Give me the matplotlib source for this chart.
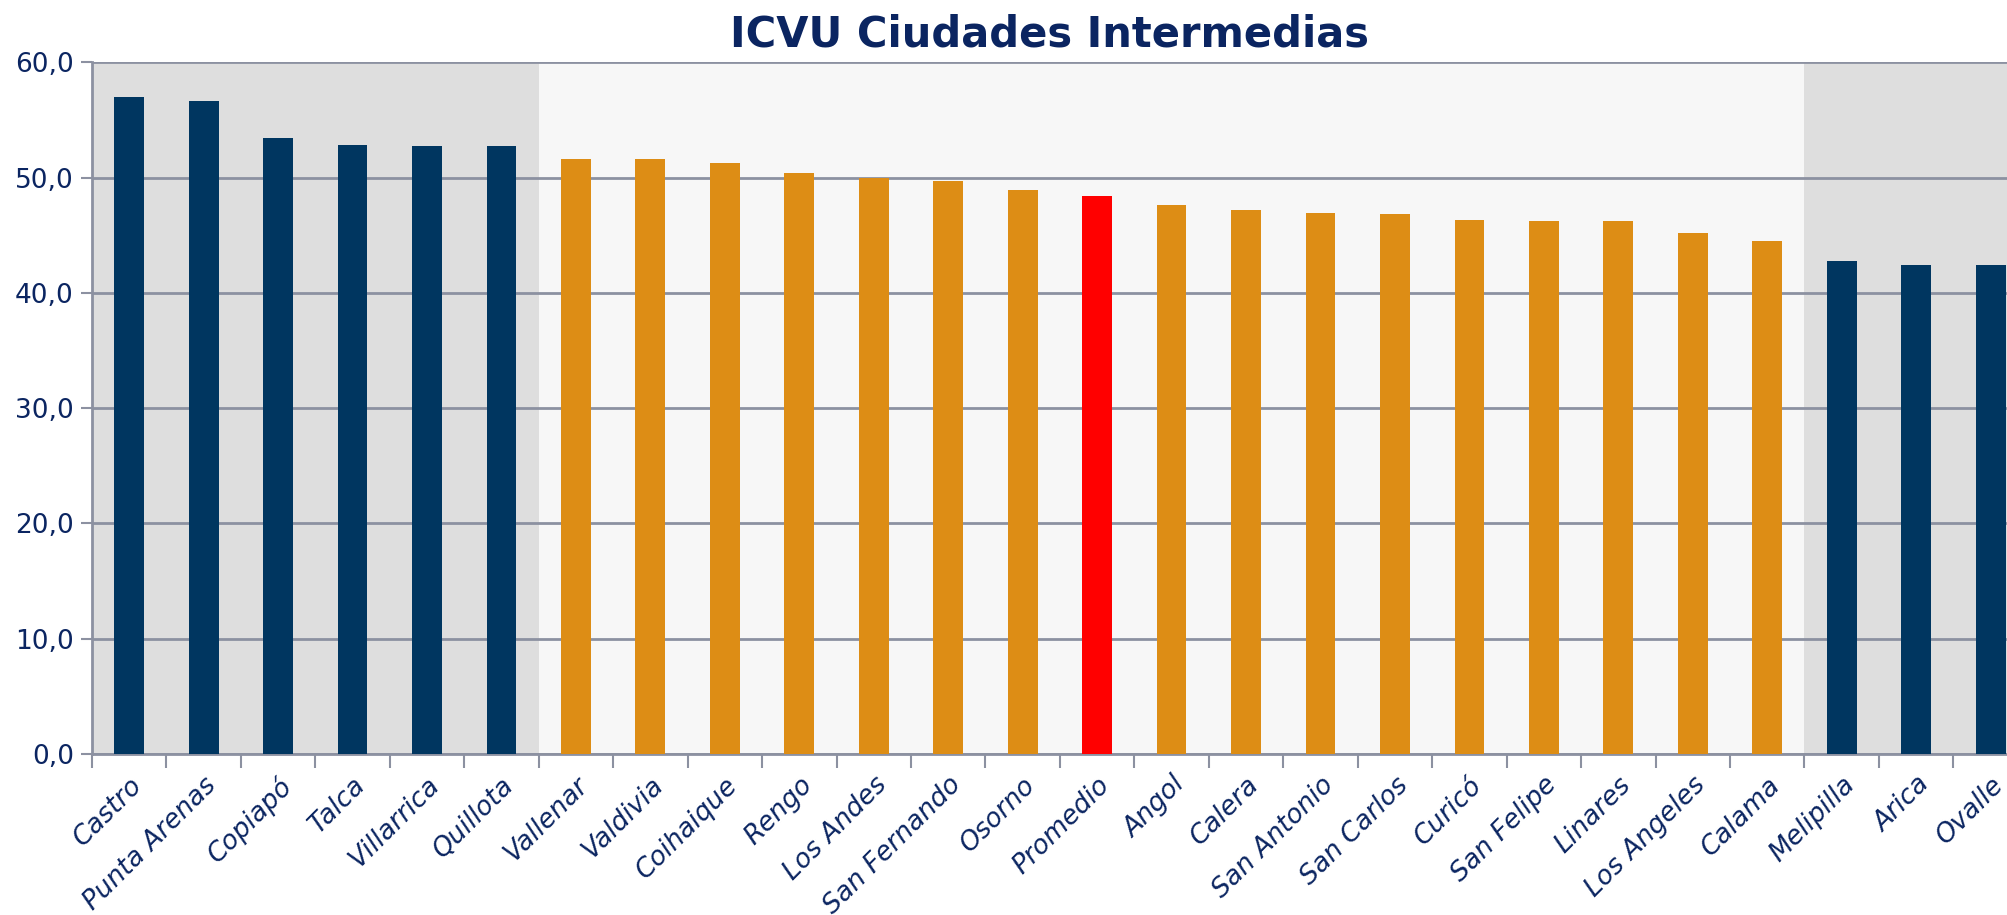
import matplotlib
matplotlib.use("Agg")
import matplotlib.pyplot as plt
import numpy as np

# ICVU por ciudad
ciudades = ["Castro", "Punta Arenas", "Copiapó", "Talca", "Villarrica", "Quillota",
            "Vallenar", "Valdivia", "Coihaique", "Rengo", "Los Andes", "San Fernando",
            "Osorno", "Promedio", "Angol", "Calera", "San Antonio", "San Carlos",
            "Curicó", "San Felipe", "Linares", "Los Angeles", "Calama",
            "Melipilla", "Arica", "Ovalle"]
icvu = [57.0, 56.6, 53.4, 52.8, 52.7, 52.7,
        51.6, 51.6, 51.3, 50.4, 50.0, 49.7,
        48.9, 48.4, 47.6, 47.2, 46.9, 46.8,
        46.3, 46.2, 46.2, 45.2, 44.5,
        42.8, 42.4, 42.4]
# grupo: "alto", "medio", "bajo", "promedio"
grupo = ["alto"] * 6 + ["medio"] * 7 + ["promedio"] + ["medio"] * 9 + ["bajo"] * 3

navy = "#003660"
orange = "#DD8D15"
red = "#FF0000"
text_col = "#0B2561"
grid_col = "#8C91A1"
col_bar = {"alto": navy, "bajo": navy, "medio": orange, "promedio": red}
col_bg = {"alto": "#DEDEDE", "bajo": "#DEDEDE", "medio": "#F7F7F7", "promedio": "#F7F7F7"}

plt.rcParams['font.family'] = ['DejaVu Sans']

fig = plt.figure(figsize=(20.07, 9.15), dpi=100)
ax = fig.add_axes([0.0458, 0.176, 0.9646, 0.756])

n = len(ciudades)
x = np.arange(n)

# fondos por grupo
for i, g in enumerate(grupo):
    ax.axvspan(i - 0.5, i + 0.5, color=col_bg[g], lw=0, zorder=0)

ax.bar(x, icvu, width=0.4, color=[col_bar[g] for g in grupo], zorder=3)

ax.set_xlim(-0.5, n - 0.5)
ax.set_ylim(0, 60)
ax.set_yticks(np.arange(0, 61, 10))
ax.set_yticklabels([f"{v:.1f}".replace(".", ",") for v in np.arange(0, 61, 10)],
                   fontsize=19, color=text_col)
ax.yaxis.grid(True, color=grid_col, lw=2, zorder=1)

ax.set_xticks(x)
ax.set_xticklabels(ciudades, rotation=45, ha="right", rotation_mode="anchor",
                   fontsize=19, color=text_col, style="italic")
ax.tick_params(axis="x", which="major", length=0, pad=13)
ax.set_xticks(np.arange(n + 1) - 0.5, minor=True)
ax.tick_params(axis="x", which="minor", length=10, width=1.5, color=grid_col)
ax.tick_params(axis="y", length=8, width=1.5, color=grid_col, pad=5)

for s in ["top", "right"]:
    ax.spines[s].set_visible(False)
for s in ["left", "bottom"]:
    ax.spines[s].set_color(grid_col)
    ax.spines[s].set_linewidth(2)

fig.text(0.523, 0.962, "ICVU Ciudades Intermedias", ha="center", va="center",
         fontsize=30, fontweight="bold", color=text_col)

fig.savefig("out.png", dpi=100)
